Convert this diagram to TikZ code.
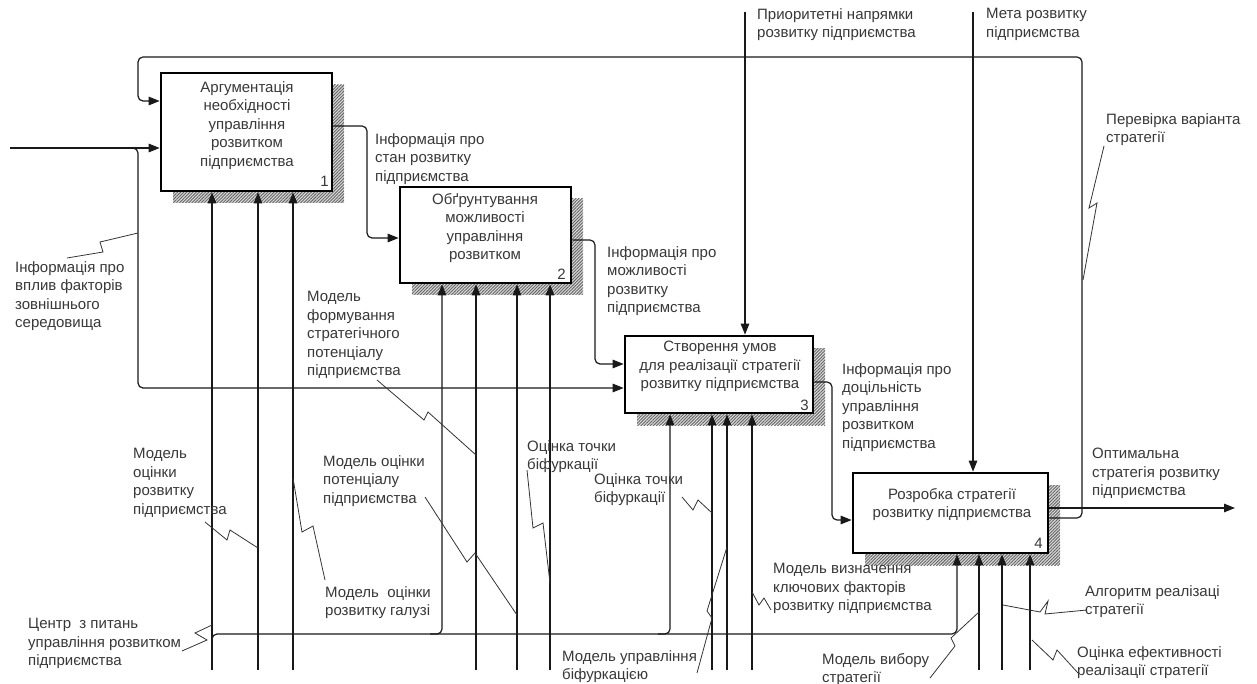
\documentclass[tikz,border=0pt]{standalone}
\usepackage{fontspec}
\setmainfont{Liberation Sans}
\usetikzlibrary{arrows.meta,patterns.meta}
\begin{document}
\begin{tikzpicture}[x=1pt,y=-1pt,
  fnt/.style={font=\fontsize{15}{18.5}\selectfont},
  box/.style={draw=black, line width=2.7pt, fill=white, inner sep=0pt},
  shade/.style={fill=black!18, pattern={Lines[angle=45,distance=2.2pt,line width=0.9pt]}, pattern color=black!60},
  conn/.style={draw=black!90, line width=1.2pt, rounded corners=5pt},
  arr/.style={conn, -{Triangle[length=11pt,width=8.5pt]}},
  lbl/.style={fnt, text=black!78, inner sep=0pt, align=left, anchor=north west},
  btxt/.style={fnt, text=black!78, inner sep=0pt, align=center, anchor=north},
  num/.style={fnt, text=black!78, inner sep=0pt, anchor=base east},
  lead/.style={draw=black!80, line width=0.8pt}
]
\useasboundingbox (0,0) rectangle (1257,684);
\fill[white] (0,0) rectangle (1257,684);

% ---------- activity boxes with hatched shadows ----------
\fill[black!15] (173,85) rectangle (344,203);
\fill[black!15] (412,199) rectangle (583,295);
\fill[black!15] (637,348) rectangle (825,425);
\fill[black!15] (865,485) rectangle (1060,565);
\path[shade] (173,85) rectangle (344,203);
\path[shade] (412,199) rectangle (583,295);
\path[shade] (637,348) rectangle (825,425);
\path[shade] (865,485) rectangle (1060,565);

\node[box, minimum width=171pt, minimum height=118pt] (b1) at (246.5,132) {};
\node[box, minimum width=171pt, minimum height=96pt]  (b2) at (485.5,235) {};
\node[box, minimum width=188pt, minimum height=77pt]  (b3) at (719,374.5) {};
\node[box, minimum width=195pt, minimum height=80pt]  (b4) at (950.5,513) {};

\node[btxt] (t1) at (247,81) {Аргументація\\необхідності\\управління\\розвитком\\підприємства};
\node[btxt] (t2) at (485,193) {Обґрунтування\\можливості\\управління\\розвитком};
\node[btxt] (t3) at (720,341) {Створення умов\\для реалізації стратегії\\розвитку підприємства};
\node[btxt] (t4) at (952,488) {Розробка стратегії\\розвитку підприємства};

\node[num] (n1) at (329,187) {1};
\node[num] (n2) at (566,280) {2};
\node[num] (n3) at (809,410) {3};
\node[num] (n4) at (1043,548) {4};

% ---------- inputs and outputs ----------
\coordinate (ein) at (10,148);
\coordinate (j3) at (138,388);
\draw[arr] (ein) -- (ein -| b1.west);
\draw[arr] (128,148) -| (j3) -- (j3 -| b3.west);

\coordinate (fbr) at (1082,57);
\coordinate (fbl) at (138,101);
\draw[arr] ([yshift=-5pt]b4.east) -| (fbr) -| (fbl) -- (fbl -| b1.west);

\coordinate (out) at (1235,508);
\draw[arr] ([yshift=5pt]b4.east) -- (out);

\coordinate (c12) at (367,238);
\draw[arr] ([yshift=6pt]b1.east) -| (c12) -- (c12 -| b2.west);
\coordinate (c23) at (595,364);
\draw[arr] ([yshift=-5pt]b2.east) -| (c23) -- (c23 -| b3.west);
\coordinate (c34) at (832,520);
\draw[arr] ([yshift=-7.5pt]b3.east) -| (c34) -- (c34 -| b4.west);

% ---------- controls ----------
\coordinate (k3) at (745,12);
\draw[arr] (k3) -- (k3 |- b3.north);
\coordinate (k4) at (973,12);
\draw[arr] (k4) -- (k4 |- b4.north);

% ---------- mechanisms ----------
\coordinate (m11) at (212,670);
\coordinate (m12) at (258,670);
\coordinate (m13) at (293,670);
\coordinate (m22) at (476,670);
\coordinate (m23) at (517,670);
\coordinate (m24) at (550,670);
\coordinate (m32) at (712,670);
\coordinate (m33) at (727,670);
\coordinate (m34) at (752,670);
\coordinate (m42) at (979,670);
\coordinate (m43) at (1002,670);
\coordinate (m44) at (1030,670);
\foreach \m/\b in {m11/b1,m12/b1,m13/b1,m22/b2,m23/b2,m24/b2,m32/b3,m33/b3,m34/b3,m42/b4,m43/b4,m44/b4}
  \draw[arr] (\m) -- (\m |- \b.south);

% shared mechanism bus
\coordinate (busE) at (957,634);
\coordinate (br2) at (442,634);
\coordinate (br3) at (670,634);
\draw[arr] (212,648) |- (busE) -- (busE |- b4.south);
\draw[arr] (430,634) -| (br2 |- b2.south);
\draw[arr] (658,634) -| (br3 |- b3.south);

% ---------- labels ----------
\node[lbl] (lext) at (15,261) {Інформація про\\вплив факторів\\зовнішнього\\середовища};
\node[lbl] (l12) at (375,133) {Інформація про\\стан розвитку\\підприємства};
\node[lbl] (l23) at (607,246) {Інформація про\\можливості\\розвитку\\підприємства};
\node[lbl] (l34) at (842,363) {Інформація про\\доцільність\\управління\\розвитком\\підприємства};
\node[lbl] (lk3) at (757,8) {Приоритетні напрямки\\розвитку підприємства};
\node[lbl] (lk4) at (986,8) {Мета розвитку\\підприємства};
\node[lbl] (lfb) at (1106,113) {Перевірка варіанта\\стратегії};
\node[lbl] (lout) at (1092,448) {Оптимальна\\стратегія розвитку\\підприємства};
\node[lbl] (lm12) at (133,448) {Модель\\оцінки\\розвитку\\підприємства};
\node[lbl] (lm13) at (325,586) {Модель\ \ оцінки\\розвитку галузі};
\node[lbl] (lm22) at (307,291) {Модель\\формування\\стратегічного\\потенціалу\\підприємства};
\node[lbl] (lm23) at (323,455) {Модель оцінки\\потенціалу\\підприємства};
\node[lbl] (lm24) at (527,440) {Оцінка точки\\біфуркації};
\node[lbl] (lm32) at (594,473) {Оцінка точки\\біфуркації};
\node[lbl] (lm33) at (562,650) {Модель управління\\біфуркацією};
\node[lbl] (lm34) at (773,563) {Модель визначення\\ключових факторів\\розвитку підприємства};
\node[lbl] (lm42) at (822,653) {Модель вибору\\стратегії};
\node[lbl] (lm43) at (1085,585) {Алгоритм реалізаці\\стратегії};
\node[lbl] (lm44) at (1077,646) {Оцінка ефективності\\реалізації стратегії};
\node[lbl] (lbus) at (28,618) {Центр\ \ з питань\\управління розвитком\\підприємства};

% ---------- leader lines ----------
\draw[lead] (67,258) -- (103,252) -- (100,242) -- (138,233);
\draw[lead] (1104,146) -- (1089,208) -- (1097,203) -- (1083,280);
\draw[lead] (205,522) -- (227,540) -- (230,530) -- (258,548);
\draw[lead] (325,580) -- (313,526) -- (302,532) -- (293,478);
\draw[lead] (377,380) -- (424,420) -- (428,412) -- (476,455);
\draw[lead] (425,497) -- (467,562) -- (475,553) -- (517,615);
\draw[lead] (527,470) -- (533,528) -- (543,523) -- (550,583);
\draw[lead] (682,497) -- (693,510) -- (698,500) -- (712,513);
\draw[lead] (697,673) -- (712,618) -- (707,611) -- (727,547);
\draw[lead] (771,610) -- (764,598) -- (759,605) -- (752,592);
\draw[lead] (930,678) -- (955,646) -- (951,638) -- (979,612);
\draw[lead] (1003,605) -- (1040,612) -- (1048,601) -- (1045,614) -- (1087,610);
\draw[lead] (1032,640) -- (1053,660) -- (1057,650) -- (1078,673);
\draw[lead] (212,625) -- (195,633) -- (207,640) -- (182,651);
\end{tikzpicture}
\end{document}
